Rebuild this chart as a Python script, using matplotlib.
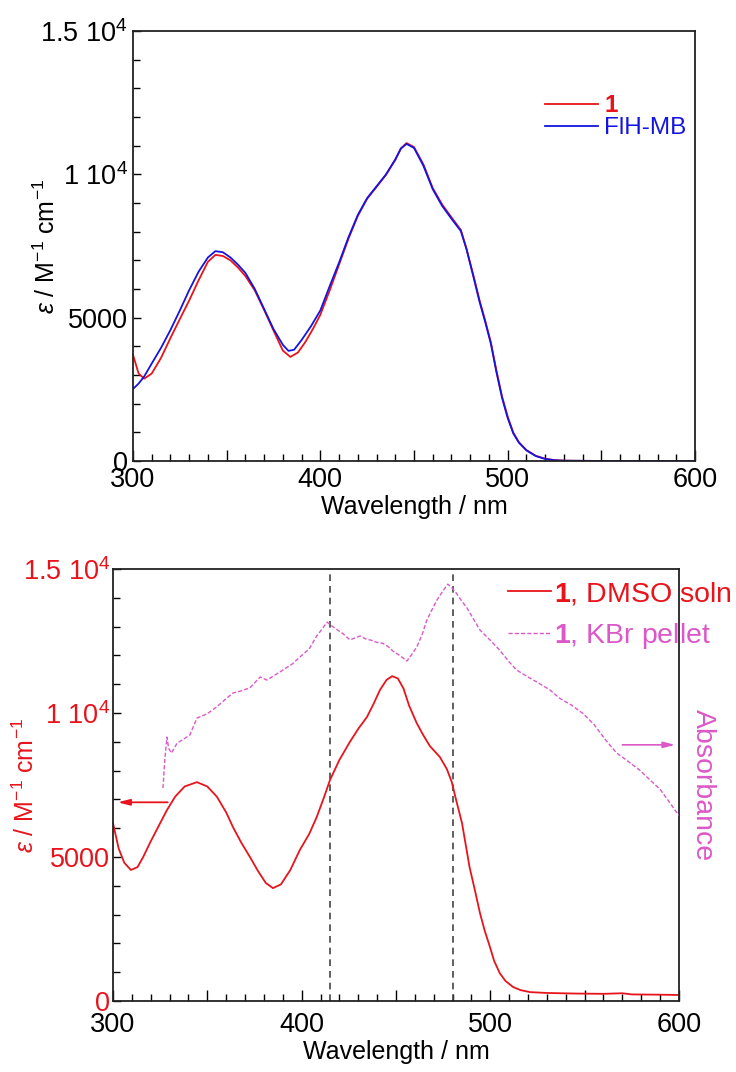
import matplotlib
matplotlib.use('Agg')
import matplotlib.pyplot as plt
from matplotlib.ticker import FixedLocator, MultipleLocator, FixedFormatter

plt.rcParams['font.family'] = ['Liberation Sans', 'DejaVu Sans']
plt.rcParams['mathtext.fontset'] = 'custom'
plt.rcParams['mathtext.rm'] = 'Liberation Sans'
plt.rcParams['mathtext.it'] = 'Liberation Sans:italic'
plt.rcParams['mathtext.bf'] = 'Liberation Sans:bold'
plt.rcParams['mathtext.default'] = 'regular'

# ---------------- data: top panel ----------------
wl_top_1 = [300, 303, 306, 310, 315, 320, 325, 330, 335, 340, 344, 348, 352, 356, 360, 365, 370, 375,
            380, 384, 388, 392, 396, 400, 405, 410, 415, 420, 425, 430, 435, 440, 443, 446, 450, 455,
            460, 465, 470, 475, 478, 482, 485, 488, 491, 494, 497, 500, 503, 506, 510, 515, 520, 525,
            530, 550, 600]
eps_top_1 = [3700, 3050, 2870, 3050, 3600, 4290, 4950, 5600, 6300, 6950, 7190, 7150, 7000, 6750, 6450,
             5950, 5270, 4550, 3850, 3630, 3780, 4150, 4600, 5100, 5950, 6850, 7750, 8550, 9150, 9560,
             9980, 10500, 10900, 11090, 10950, 10350, 9520, 8950, 8500, 8060, 7400, 6400, 5600, 4900,
             4150, 3150, 2250, 1550, 990, 650, 380, 180, 80, 30, 10, 0, 0]
wl_top_fl = [300, 303, 306, 310, 315, 320, 325, 330, 335, 340, 344, 348, 352, 356, 360, 365, 370, 375,
             380, 383, 386, 390, 395, 400, 405, 410, 415, 420, 425, 430, 435, 440, 443, 446, 450, 455,
             460, 465, 470, 475, 478, 482, 485, 488, 491, 494, 497, 500, 503, 506, 510, 515, 520, 525,
             530, 550, 600]
eps_top_fl = [2510, 2700, 2950, 3400, 3950, 4570, 5250, 5960, 6600, 7100, 7320, 7280, 7100, 6850, 6560,
              6000, 5300, 4600, 4050, 3840, 3880, 4220, 4700, 5250, 6100, 6920, 7800, 8580, 9170, 9580,
              9990, 10520, 10900, 11060, 10920, 10300, 9480, 8900, 8450, 8020, 7400, 6350, 5550, 4850,
              4100, 3100, 2200, 1500, 960, 640, 370, 170, 70, 25, 10, 0, 0]

# ---------------- data: bottom panel ----------------
wl_dmso = [300, 303, 306, 309.5, 313, 316, 319.6, 324, 328.6, 333, 338, 344.5, 350, 355, 360, 363.6,
           368, 372.6, 377, 381, 384.8, 389, 394, 399, 404, 408, 412, 415, 420, 425.6, 430, 434.6,
           438, 441.5, 445, 448, 451, 454, 457, 461, 464.3, 468, 473.3, 477, 479.6, 482, 485, 489, 492,
           494.5, 497, 499.8, 502, 505, 508, 512, 516, 521, 530, 545, 560, 570, 575, 590, 600]
eps_dmso = [6180, 5300, 4800, 4550, 4650, 5000, 5490, 6050, 6630, 7100, 7450, 7600, 7450, 7100, 6550,
            6040, 5500, 5000, 4500, 4100, 3920, 4050, 4550, 5240, 5800, 6390, 7100, 7670, 8370, 9000,
            9450, 9860, 10300, 10800, 11150, 11280, 11200, 10850, 10250, 9650, 9250, 8850, 8470, 8050,
            7600, 6950, 6180, 4650, 3800, 3060, 2450, 1880, 1400, 970, 700, 490, 380, 310, 280, 260,
            250, 270, 230, 220, 210]
wl_kbr = [326.5, 327.5, 328.6, 329.5, 331, 334, 337, 340.8, 344.5, 350, 355, 360, 363.6, 368, 372.6,
          378, 381.6, 386, 390, 395, 399, 404, 408, 411, 413.5, 416, 419, 422, 425.6, 428, 431, 434,
          437, 440, 443, 446, 448.4, 452, 455.8, 458, 461, 464, 466.4, 469, 471.7, 475, 477.5, 480,
          482, 485, 487.6, 491, 494.5, 500, 505, 510, 514, 520, 526, 531.6, 537, 543, 549, 555, 561,
          567, 573, 579, 584.6, 590, 595, 599, 600]
abs_kbr = [0.493, 0.56, 0.611, 0.585, 0.574, 0.597, 0.605, 0.616, 0.655, 0.665, 0.681, 0.70, 0.713,
           0.718, 0.725, 0.75, 0.743, 0.755, 0.766, 0.78, 0.796, 0.815, 0.845, 0.862, 0.877, 0.868,
           0.859, 0.85, 0.836, 0.84, 0.845, 0.838, 0.835, 0.83, 0.828, 0.82, 0.81, 0.80, 0.787, 0.80,
           0.819, 0.85, 0.882, 0.905, 0.928, 0.95, 0.965, 0.955, 0.944, 0.925, 0.91, 0.885, 0.859,
           0.835, 0.812, 0.785, 0.766, 0.75, 0.735, 0.72, 0.70, 0.685, 0.666, 0.64, 0.605, 0.574,
           0.555, 0.535, 0.512, 0.49, 0.46, 0.435, 0.43]
marker_lines = [415, 480]

ytick_vals = [0, 5000, 10000, 15000]
ytick_labels = ['0', '5000', r'1 10$^{4}$', r'1.5 10$^{4}$']
xtick_vals = [300, 350, 400, 450, 500, 550, 600]
xtick_labels = ['300', '', '400', '', '500', '', '600']

RED = '#e8141b'
BLUE = '#1414e0'
PINK = '#dc58c8'
FS = 18
TFS = 19.5

fig = plt.figure(figsize=(7.36, 10.72), dpi=100)
ax1 = fig.add_axes([0.1807, 0.5700, 0.7636, 0.4011])
ax2 = fig.add_axes([0.1535, 0.0662, 0.7690, 0.4030])

def style(ax, ycolor, xpad, ypad):
    ax.set_xlim(300, 600)
    ax.set_ylim(0, 15000)
    ax.xaxis.set_major_locator(FixedLocator(xtick_vals))
    ax.xaxis.set_major_formatter(FixedFormatter(xtick_labels))
    ax.xaxis.set_minor_locator(MultipleLocator(10))
    ax.yaxis.set_major_locator(FixedLocator(ytick_vals))
    ax.yaxis.set_major_formatter(FixedFormatter(ytick_labels))
    ax.yaxis.set_minor_locator(MultipleLocator(1000))
    ax.tick_params(axis='both', which='both', direction='in', top=False, right=False, width=1)
    ax.tick_params(axis='x', which='major', length=8, pad=xpad, labelsize=TFS)
    ax.tick_params(axis='x', which='minor', length=5)
    ax.tick_params(axis='y', which='major', length=6, pad=ypad, labelsize=TFS, labelcolor=ycolor)
    ax.tick_params(axis='y', which='minor', length=5)
    for s in ax.spines.values():
        s.set_linewidth(1.3)
        s.set_color('#222222')
    ax.set_xlabel('Wavelength / nm', fontsize=FS)
    ax.set_ylabel(r'$\mathit{\varepsilon}$ / M$^{-1}$ cm$^{-1}$', fontsize=FS, color=ycolor)
    ax.yaxis.set_label_coords(-0.13, 0.5)

# ---------------- top panel ----------------
style(ax1, 'black', 4, 3.5)
ax1.xaxis.set_label_coords(0.5, -0.08)
ax1.plot(wl_top_1, eps_top_1, color=RED, lw=1.3, label=r'$\mathbf{1}$')
ax1.plot(wl_top_fl, eps_top_fl, color=BLUE, lw=1.3, label='FlH-MB')
leg1 = ax1.legend(loc='upper left', bbox_to_anchor=(0.733, 0.851), frameon=False, fontsize=17.5,
                  handlelength=2.2, handletextpad=0.25, labelspacing=0.0, borderpad=0,
                  borderaxespad=0, labelcolor=[RED, BLUE])

# ---------------- bottom panel ----------------
style(ax2, RED, 8, 2)
ax2.xaxis.set_label_coords(0.5, -0.09)
for xv in marker_lines:
    ax2.axvline(xv, color='#444444', lw=1.2, ls=(0, (4, 3)))
l1, = ax2.plot(wl_dmso, eps_dmso, color=RED, lw=1.3, label=r'$\mathbf{1}$, DMSO soln')
ax2.annotate('', xy=(302.5, 6900), xytext=(329, 6900),
             arrowprops=dict(arrowstyle='-|>,head_length=0.7,head_width=0.18', color=RED, lw=1.3,
                             shrinkA=0, shrinkB=0))

ax3 = ax2.twinx()
ax3.set_ylim(0, 1)
ax3.set_yticks([])
for s in ax3.spines.values():
    s.set_visible(False)
l2, = ax3.plot(wl_kbr, abs_kbr, color=PINK, lw=1.0, ls=(0, (3, 1.5)), label=r'$\mathbf{1}$, KBr pellet')
ax3.annotate('', xy=(598, 0.593), xytext=(570, 0.593),
             arrowprops=dict(arrowstyle='-|>,head_length=0.7,head_width=0.18', color=PINK, lw=1.2,
                             shrinkA=0, shrinkB=0))
ax3.set_ylabel('Absorbance', fontsize=20.5, color=PINK)
ax3.yaxis.set_label_position('right')
ax3.yaxis.label.set_rotation(270)
ax3.yaxis.label.set_rotation_mode('default')
ax3.yaxis.label.set_va('center')
ax3.yaxis.label.set_ha('center')
ax3.yaxis.set_label_coords(1.042, 0.5)
ax3.set_xlim(300, 600)

leg2 = ax3.legend(handles=[l1, l2], loc='upper left', bbox_to_anchor=(0.698, 0.974), frameon=False,
                  fontsize=20.5, handlelength=1.5, handletextpad=0.12, labelspacing=0.49, borderpad=0,
                  borderaxespad=0, labelcolor=[RED, PINK])

fig.savefig('out.png', dpi=100)
